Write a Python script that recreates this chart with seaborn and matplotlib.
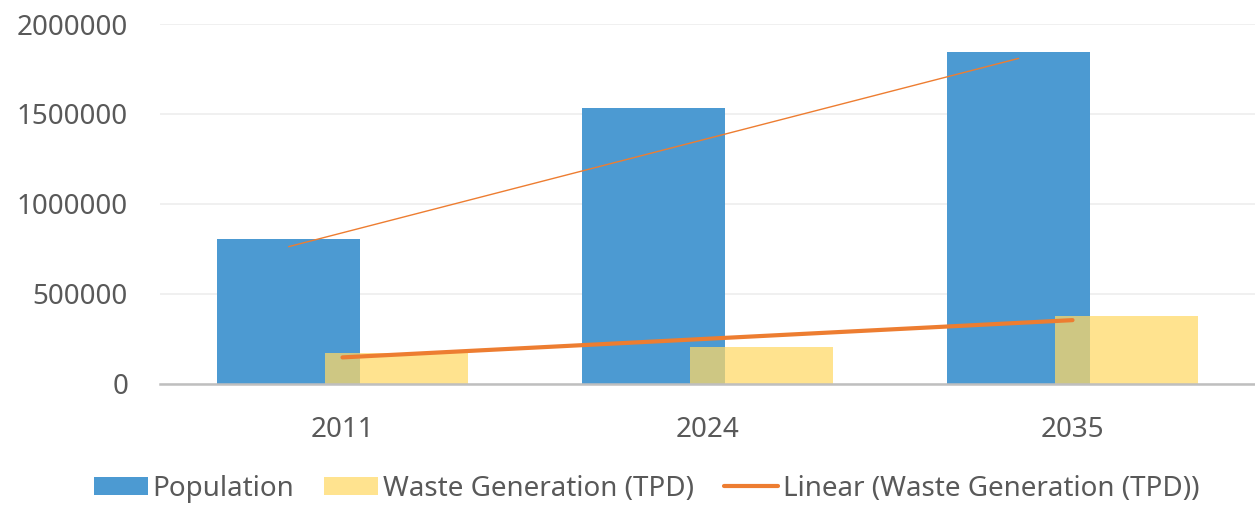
import numpy as np
import pandas as pd
import matplotlib
matplotlib.use("Agg")
import matplotlib.pyplot as plt
from matplotlib.patches import Patch
from matplotlib.lines import Line2D
import seaborn as sns

# ── data ─────────────────────────────────────────────────────────────────
years = ["2011", "2024", "2035"]
population = [804000, 1533000, 1843000]
waste = [171000, 205000, 378000]
# thin orange line drawn over the population bars (start / end values)
pop_line = [763000, 1809000]

BLUE = "#4C9AD2"
YELLOW = "#FFD966"
ORANGE = "#ED7D31"
TEXT = "#595959"

sns.set_theme(style="white")
plt.rcParams["font.family"] = ["Noto Sans", "DejaVu Sans"]

fig = plt.figure(figsize=(12.55, 5.12), dpi=100)
ax = fig.add_axes([160 / 1255, 128 / 512, 1095 / 1255, 360 / 512])

idx = np.arange(len(years))
off = 0.1475
bw = 0.393

sns.barplot(x=idx - off, y=population, native_scale=True, width=bw,
            color=BLUE, saturation=1, ax=ax, zorder=2, linewidth=0)
sns.barplot(x=idx + off, y=waste, native_scale=True, width=bw,
            color=YELLOW, saturation=1, alpha=0.73, ax=ax, zorder=3, linewidth=0)

# population line (thin), spans the blue bar centres
sns.lineplot(x=[idx[0] - off, idx[-1] - off], y=pop_line, color=ORANGE,
             linewidth=1.0, ax=ax, zorder=4)

# linear trend of waste generation
k, b = np.polyfit(idx, waste, 1)
trend_x = np.array([idx[0], idx[-1]])
sns.lineplot(x=trend_x, y=k * trend_x + b, color=ORANGE, linewidth=3.0,
             ax=ax, zorder=5)

ax.set_xlim(-0.5, 2.5)
ax.set_ylim(0, 2000000)
ax.set_yticks([0, 500000, 1000000, 1500000, 2000000])
ax.set_yticklabels(["0", "500000", "1000000", "1500000", "2000000"])
ax.set_xticks(idx)
ax.set_xticklabels(years)
ax.set_xlabel("")
ax.set_ylabel("")

ax.grid(axis="y", color="#EFEFEF", linewidth=1.3, zorder=0)
ax.grid(axis="x", visible=False)
ax.set_axisbelow(True)
for s in ["left", "right", "top"]:
    ax.spines[s].set_visible(False)
ax.spines["bottom"].set_color("#BFBFBF")
ax.spines["bottom"].set_linewidth(1.8)
ax.spines["bottom"].set_zorder(6)

ax.tick_params(axis="y", length=0, pad=23, labelsize=20, labelcolor=TEXT)
ax.tick_params(axis="x", length=0, pad=23, labelsize=20, labelcolor=TEXT)

handles = [
    Patch(facecolor=BLUE, edgecolor="none", label="Population"),
    Patch(facecolor=YELLOW, alpha=0.73, edgecolor="none", label="Waste Generation (TPD)"),
    Line2D([0], [0], color=ORANGE, linewidth=3, label="Linear (Waste Generation (TPD))"),
]
fig.legend(handles=handles, loc="center", bbox_to_anchor=(0.515, 0.045),
           ncol=3, frameon=False, fontsize=20, labelcolor=TEXT,
           handlelength=1.95, handleheight=0.65, handletextpad=0.15,
           columnspacing=1.1)

fig.savefig("out.png", dpi=100, facecolor="white")
